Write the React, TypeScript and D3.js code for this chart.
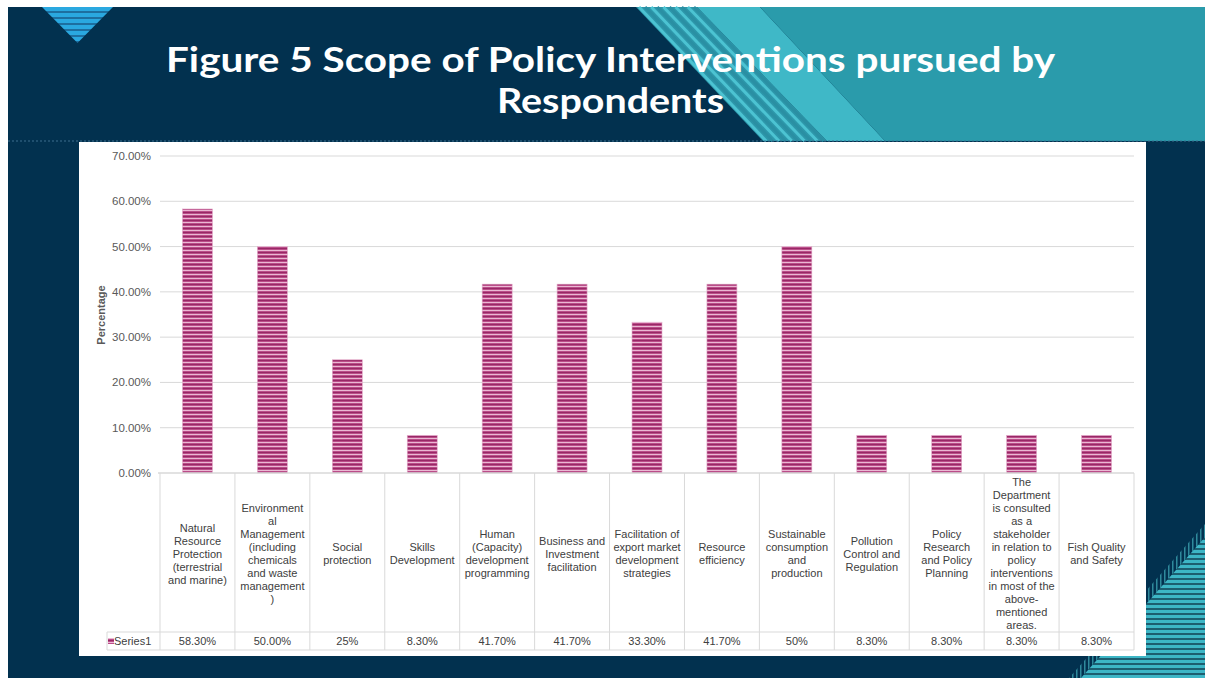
import React from "react";
import * as d3 from "d3";

const categories: string[][] = [
  ["Natural", "Resource", "Protection", "(terrestrial", "and marine)"],
  ["Environment", "al", "Management", "(including", "chemicals", "and waste", "management", ")"],
  ["Social", "protection"],
  ["Skills", "Development"],
  ["Human", "(Capacity)", "development", "programming"],
  ["Business and", "Investment", "facilitation"],
  ["Facilitation of", "export market", "development", "strategies"],
  ["Resource", "efficiency"],
  ["Sustainable", "consumption", "and", "production"],
  ["Pollution", "Control and", "Regulation"],
  ["Policy", "Research", "and Policy", "Planning"],
  ["The", "Department", "is consulted", "as a", "stakeholder", "in relation to", "policy", "interventions", "in most of the", "above-", "mentioned", "areas."],
  ["Fish Quality", "and Safety"],
];
const values: number[] = [0.583, 0.5, 0.25, 0.083, 0.417, 0.417, 0.333, 0.417, 0.5, 0.083, 0.083, 0.083, 0.083];
const tableLabels: string[] = ["58.30%", "50.00%", "25%", "8.30%", "41.70%", "41.70%", "33.30%", "41.70%", "50%", "8.30%", "8.30%", "8.30%", "8.30%"];
const seriesName = "Series1";
const yTicks: number[] = [0, 0.1, 0.2, 0.3, 0.4, 0.5, 0.6, 0.7];
const titleLines: string[] = ["Figure 5 Scope of Policy Interventions pursued by", "Respondents"];
const titleWidths: number[] = [889, 227];

const NAVY = "#02314f";
const TEAL_DARK = "#2a9bab";
const TEAL_LIGHT = "#3fb8c7";
const GRID = "#d9d9d9";
const TXT = "#404040";
const TICK = "#595959";
const FONT = "'Liberation Sans', Arial, sans-serif";

export default function App() {
  const W = 1205, H = 678;
  const plotL = 160, plotR = 1134, plotT = 156, plotB = 473;
  const ids = categories.map((_, i) => String(i));
  const xCol = d3.scaleBand<string>().domain(ids).range([plotL, plotR]).padding(0);
  const xBar = d3.scaleBand<string>().domain(ids).range([plotL, plotR]).paddingInner(0.6).paddingOuter(0.3);
  const y = d3.scaleLinear().domain([0, 0.7]).range([plotB, plotT]);
  const fmt = d3.format(".2%");
  const tableTop = plotB, rowTop = 632, rowBot = 650, seriesLeft = 107;
  const lh = 13;
  const catCenter = (tableTop + rowTop) / 2 + 1;

  const stripeLines: JSX.Element[] = [];
  for (let k = 0; k < 10; k++) {
    const t = (k + 0.5) / 10;
    const x0 = 636 + (697 - 636) * t;
    const x1 = 763 + (827 - 763) * t;
    stripeLines.push(<line key={k} x1={x0} y1={7} x2={x1} y2={141} stroke={k % 2 === 0 ? "#4cc3d2" : "#2a8fa3"} strokeWidth={3} />);
  }

  return (
    <svg width={W} height={H} style={{ position: "absolute", left: 0, top: 0, display: "block" }}>
      <defs>
        <pattern id="barStripe" width={6} height={4} patternUnits="userSpaceOnUse">
          <rect width={6} height={4} fill="#bb4d89" />
          <rect y={0} width={6} height={1} fill="#982866" />
          <rect y={2} width={6} height={1} fill="#eab8d3" />
        </pattern>
        <pattern id="tlStripe" width={10} height={6} patternUnits="userSpaceOnUse" y={7}>
          <rect width={10} height={6} fill="#2aa8e0" />
          <rect y={4} width={10} height={2} fill="#1d6fa0" />
        </pattern>
        <pattern id="brStripe" width={10} height={5} patternUnits="userSpaceOnUse">
          <rect width={10} height={5} fill="#3db6c6" />
          <rect y={3} width={10} height={2} fill="#1c5e70" />
        </pattern>
        <pattern id="vStripe" width={4} height={10} patternUnits="userSpaceOnUse">
          <rect width={4} height={10} fill={NAVY} />
          <rect width={1.5} height={10} fill="#2f8a9c" />
        </pattern>
      </defs>
      <rect width={W} height={H} fill="#ffffff" />
      <rect x={8} y={7} width={W - 8} height={H - 7} fill={NAVY} />
      {/* banner decorations */}
      <polygon points="636,7 697,7 827,141 763,141" fill="#2d97aa" />
      {stripeLines}
      <polygon points="697,7 760,7 885,141 827,141" fill={TEAL_LIGHT} />
      <polygon points={`760,7 ${W},7 ${W},141 885,141`} fill={TEAL_DARK} />
      <polygon points="42,7 113,7 77.5,43" fill="url(#tlStripe)" />
      <line x1={8} y1={141} x2={W} y2={141} stroke="#3d6e8e" strokeWidth={1} strokeDasharray="2,2" />
      {/* bottom-right decorations */}
      <polygon points={`${W},524 ${W},537 1081,678 1069,678`} fill="url(#vStripe)" />
      <polygon points={`${W},537 ${W},${H} 1081,${H}`} fill="url(#brStripe)" />
      {/* title */}
      {titleLines.map((t, i) => (
        <text key={i} x={610.5} y={72 + i * 41} textAnchor="middle" fill="#ffffff"
          textLength={titleWidths[i]} lengthAdjust="spacingAndGlyphs"
          style={{ fontFamily: "Lato, 'Open Sans', sans-serif", fontWeight: 700, fontSize: 34 }}>{t}</text>
      ))}
      {/* chart area */}
      <rect x={79} y={142} width={1067} height={514} fill="#ffffff" />
      {yTicks.map((t) => (
        <g key={t}>
          {t > 0 && <line x1={plotL} x2={plotR} y1={y(t)} y2={y(t)} stroke={GRID} strokeWidth={1} />}
          <text x={151} y={y(t) + 4} textAnchor="end" fill={TICK} style={{ fontFamily: FONT, fontSize: 11.5 }}>{fmt(t)}</text>
        </g>
      ))}
      <text transform={`translate(105,315) rotate(-90)`} textAnchor="middle" fill={TICK}
        style={{ fontFamily: FONT, fontSize: 11, fontWeight: 700 }}>Percentage</text>
      {values.map((v, i) => (
        <rect key={i} x={xBar(ids[i])} y={y(v)} width={xBar.bandwidth()} height={y(0) - y(v)}
          fill="url(#barStripe)" stroke="#e2a9c8" strokeWidth={0.6} />
      ))}
      {/* data table */}
      <line x1={plotL - 2} x2={plotR} y1={tableTop} y2={tableTop} stroke={GRID} strokeWidth={1.5} />
      <line x1={seriesLeft} x2={plotR} y1={rowTop} y2={rowTop} stroke={GRID} strokeWidth={1} />
      <line x1={seriesLeft} x2={plotR} y1={rowBot} y2={rowBot} stroke={GRID} strokeWidth={1} />
      <line x1={seriesLeft} x2={seriesLeft} y1={rowTop} y2={rowBot} stroke={GRID} strokeWidth={1} />
      {ids.map((id) => (
        <line key={id} x1={xCol(id)} x2={xCol(id)} y1={tableTop} y2={rowBot} stroke={GRID} strokeWidth={1} />
      ))}
      <line x1={plotR} x2={plotR} y1={tableTop} y2={rowBot} stroke={GRID} strokeWidth={1} />
      {categories.map((lines, i) => {
        const cx = (xCol(ids[i]) as number) + xCol.bandwidth() / 2;
        const start = catCenter - ((lines.length - 1) * lh) / 2;
        return (
          <text key={i} textAnchor="middle" fill={TXT} style={{ fontFamily: FONT, fontSize: 11 }}>
            {lines.map((l, j) => (
              <tspan key={j} x={cx} y={start + j * lh + 4}>{l}</tspan>
            ))}
          </text>
        );
      })}
      {tableLabels.map((l, i) => (
        <text key={i} x={(xCol(ids[i]) as number) + xCol.bandwidth() / 2} y={645} textAnchor="middle" fill={TXT}
          style={{ fontFamily: FONT, fontSize: 11 }}>{l}</text>
      ))}
      <rect x={108} y={638} width={6} height={6} fill="url(#barStripe)" />
      <text x={114} y={645} fill={TXT} style={{ fontFamily: FONT, fontSize: 11 }}>{seriesName}</text>
    </svg>
  );
}
